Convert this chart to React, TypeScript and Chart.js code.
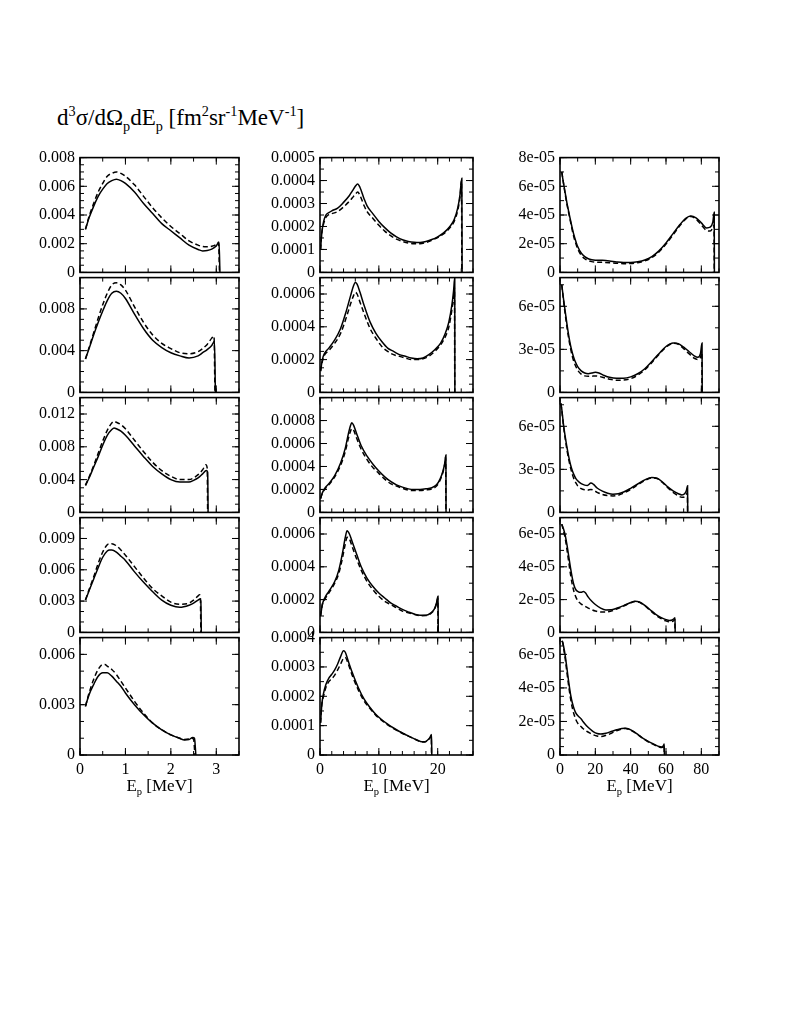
import React, { useEffect, useRef } from "react";
import { Chart, registerables } from "chart.js";
Chart.register(...registerables);

// ---------------- DATA ----------------
// x tick labels per column
const col1XTicks = [0, 1, 2, 3];
const col2XTicks = [0, 10, 20];
const col3XTicks = [0, 20, 40, 60, 80];
const colXMax = [3.5, 26, 90];
const colXMajor = [1, 10, 20];
const colXMinor = [0.5, 2, 10];

// y axis ranges / tick steps per panel (rows top -> bottom)
const col1YMax = [0.008, 0.011, 0.014, 0.011, 0.007];
const col1YMajor = [0.002, 0.004, 0.004, 0.003, 0.003];
const col1YMinor = [0.0005, 0.001, 0.001, 0.001, 0.001];
const col2YMax = [0.0005, 0.0007, 0.001, 0.0007, 0.0004];
const col2YMajor = [0.0001, 0.0002, 0.0002, 0.0002, 0.0001];
const col2YMinor = [0.00005, 0.00005, 0.0001, 0.0001, 0.00005];
const col3YMax = [8e-5, 8e-5, 8e-5, 7e-5, 7e-5];
const col3YMajor = [2e-5, 3e-5, 3e-5, 2e-5, 2e-5];
const col3YMinor = [1e-5, 1.5e-5, 1.5e-5, 1e-5, 5e-6];
// whether the label at the top of the axis is printed
const col1YTopLabel = [true, false, false, false, false];
const col2YTopLabel = [true, false, false, false, true];
const col3YTopLabel = [true, false, false, false, false];

// ---- column 1 (E_p up to 3.5 MeV) ----
const c1r1SE = [0.12, 0.2, 0.3, 0.4, 0.5, 0.6, 0.7, 0.8, 0.9, 1.0, 1.2, 1.4, 1.6, 1.8, 2.0, 2.2, 2.4, 2.6, 2.7, 2.8, 2.9, 3.0, 3.06, 3.08];
const c1r1SV = [0.003, 0.0038, 0.0046, 0.0053, 0.0058, 0.0062, 0.0064, 0.0065, 0.0064, 0.0062, 0.0056, 0.0048, 0.0041, 0.0034, 0.0029, 0.0024, 0.0019, 0.0016, 0.0015, 0.00152, 0.00162, 0.00185, 0.0021, 0];
const c1r1DE = [0.12, 0.2, 0.3, 0.4, 0.5, 0.6, 0.7, 0.8, 0.9, 1.0, 1.2, 1.4, 1.6, 1.8, 2.0, 2.2, 2.4, 2.6, 2.7, 2.8, 2.9, 3.0, 3.05, 3.07];
const c1r1DV = [0.003, 0.0039, 0.0048, 0.0056, 0.0062, 0.0067, 0.0069, 0.007, 0.0069, 0.0067, 0.0061, 0.0053, 0.0045, 0.0038, 0.0032, 0.0027, 0.0022, 0.0019, 0.0018, 0.00178, 0.00182, 0.00195, 0.0021, 0];

const c1r2SE = [0.12, 0.2, 0.3, 0.4, 0.5, 0.6, 0.7, 0.8, 0.9, 1.0, 1.2, 1.4, 1.6, 1.8, 2.0, 2.2, 2.4, 2.6, 2.7, 2.8, 2.9, 2.96, 2.98];
const c1r2SV = [0.0032, 0.0042, 0.0055, 0.0067, 0.0078, 0.0088, 0.0095, 0.0097, 0.0095, 0.009, 0.0075, 0.0061, 0.005, 0.0043, 0.0038, 0.0035, 0.0033, 0.0035, 0.0038, 0.0041, 0.0045, 0.0049, 0];
const c1r2DE = [0.12, 0.2, 0.3, 0.4, 0.5, 0.6, 0.7, 0.8, 0.9, 1.0, 1.2, 1.4, 1.6, 1.8, 2.0, 2.2, 2.4, 2.6, 2.7, 2.8, 2.9, 2.95, 2.97];
const c1r2DV = [0.0032, 0.0043, 0.0057, 0.0071, 0.0084, 0.0095, 0.0103, 0.0105, 0.0103, 0.0098, 0.0082, 0.0067, 0.0055, 0.0047, 0.0042, 0.0038, 0.0037, 0.0039, 0.0042, 0.0046, 0.0052, 0.0054, 0];

const c1r3SE = [0.12, 0.2, 0.3, 0.4, 0.5, 0.6, 0.7, 0.75, 0.8, 0.9, 1.0, 1.2, 1.4, 1.6, 1.8, 2.0, 2.2, 2.4, 2.5, 2.6, 2.7, 2.78, 2.81, 2.82];
const c1r3SV = [0.0033, 0.0042, 0.0055, 0.0068, 0.0082, 0.0094, 0.0101, 0.0103, 0.0102, 0.0099, 0.0094, 0.0081, 0.0068, 0.0056, 0.0047, 0.004, 0.0037, 0.0037, 0.0039, 0.0042, 0.0047, 0.0051, 0.0049, 0];
const c1r3DE = [0.12, 0.2, 0.3, 0.4, 0.5, 0.6, 0.7, 0.75, 0.8, 0.9, 1.0, 1.2, 1.4, 1.6, 1.8, 2.0, 2.2, 2.4, 2.5, 2.6, 2.7, 2.77, 2.8, 2.81];
const c1r3DV = [0.0033, 0.0043, 0.0057, 0.0072, 0.0087, 0.01, 0.0109, 0.0111, 0.011, 0.0107, 0.0102, 0.0088, 0.0074, 0.0061, 0.0051, 0.0044, 0.004, 0.004, 0.0042, 0.0046, 0.0052, 0.0058, 0.0054, 0];

const c1r4SE = [0.12, 0.2, 0.3, 0.4, 0.5, 0.6, 0.65, 0.7, 0.8, 0.9, 1.0, 1.2, 1.4, 1.6, 1.8, 2.0, 2.2, 2.4, 2.5, 2.6, 2.64, 2.66, 2.67];
const c1r4SV = [0.0031, 0.004, 0.0051, 0.0062, 0.0072, 0.0078, 0.0079, 0.0079, 0.0077, 0.0073, 0.0069, 0.0058, 0.0048, 0.0039, 0.0031, 0.0026, 0.0024, 0.0026, 0.0028, 0.0031, 0.0032, 0.003, 0];
const c1r4DE = [0.12, 0.2, 0.3, 0.4, 0.5, 0.6, 0.65, 0.7, 0.8, 0.9, 1.0, 1.2, 1.4, 1.6, 1.8, 2.0, 2.2, 2.4, 2.5, 2.6, 2.63, 2.65, 2.66];
const c1r4DV = [0.0031, 0.0041, 0.0053, 0.0066, 0.0077, 0.0084, 0.0085, 0.0085, 0.0083, 0.0079, 0.0074, 0.0063, 0.0052, 0.0042, 0.0035, 0.0029, 0.0027, 0.0028, 0.0031, 0.0035, 0.0036, 0.0033, 0];

const c1r5SE = [0.12, 0.2, 0.3, 0.4, 0.5, 0.55, 0.6, 0.7, 0.8, 0.9, 1.0, 1.2, 1.4, 1.6, 1.8, 2.0, 2.2, 2.3, 2.4, 2.48, 2.52, 2.55];
const c1r5SV = [0.0029, 0.0036, 0.0042, 0.0047, 0.0049, 0.0049, 0.0049, 0.0047, 0.0044, 0.0041, 0.0037, 0.003, 0.0024, 0.0019, 0.0015, 0.0012, 0.00098, 0.0009, 0.00092, 0.00105, 0.001, 0];
const c1r5DE = [0.12, 0.2, 0.3, 0.4, 0.5, 0.55, 0.6, 0.7, 0.8, 0.9, 1.0, 1.2, 1.4, 1.6, 1.8, 2.0, 2.2, 2.3, 2.4, 2.46, 2.5, 2.53];
const c1r5DV = [0.0029, 0.0037, 0.0045, 0.0051, 0.0054, 0.0054, 0.0053, 0.0051, 0.0048, 0.0044, 0.004, 0.0032, 0.0025, 0.0019, 0.0015, 0.0012, 0.001, 0.00092, 0.00095, 0.001, 0.00095, 0];

// ---- column 2 (E_p up to 26 MeV) ----
const c2r1SE = [0.1, 0.3, 0.6, 1.0, 1.5, 2, 3, 4, 5, 5.5, 6, 6.4, 6.8, 7.5, 8, 9, 10, 11, 12, 13, 14, 15, 16, 17, 18, 19, 20, 21, 22, 22.8, 23.4, 23.8, 24.1, 24.15];
const c2r1SV = [0.0001, 0.00017, 0.00022, 0.00025, 0.00026, 0.000268, 0.00028, 0.000305, 0.000335, 0.000355, 0.000375, 0.000385, 0.00037, 0.00032, 0.00029, 0.000255, 0.000222, 0.000195, 0.000172, 0.000155, 0.000142, 0.000135, 0.000131, 0.00013, 0.000135, 0.000143, 0.000155, 0.000172, 0.000198, 0.00023, 0.00028, 0.00034, 0.00041, 0];
const c2r1DE = [0.1, 0.3, 0.6, 1.0, 1.5, 2, 3, 4, 5, 5.5, 6, 6.4, 6.8, 7.5, 8, 9, 10, 11, 12, 13, 14, 15, 16, 17, 18, 19, 20, 21, 22, 22.8, 23.4, 23.8, 24.05, 24.1];
const c2r1DV = [0.0001, 0.00017, 0.00021, 0.00024, 0.000252, 0.000256, 0.000265, 0.000285, 0.00031, 0.000325, 0.00034, 0.00035, 0.000335, 0.00029, 0.000265, 0.000235, 0.000205, 0.00018, 0.00016, 0.000145, 0.000135, 0.000128, 0.000125, 0.000125, 0.00013, 0.00014, 0.000152, 0.000168, 0.000192, 0.000222, 0.00027, 0.00033, 0.0004, 0];

const c2r2SE = [0.1, 0.4, 0.8, 1.5, 2.5, 3.5, 4.5, 5.2, 5.7, 6.0, 6.3, 6.8, 7.5, 8.5, 9.5, 10.5, 11.5, 12.5, 13.5, 14.5, 15.5, 16.5, 17.5, 18.5, 19.5, 20.5, 21.3, 21.9, 22.4, 22.7, 22.9, 22.92];
const c2r2SV = [0.00013, 0.0002, 0.00024, 0.00027, 0.00032, 0.00039, 0.0005, 0.00059, 0.00065, 0.00067, 0.00066, 0.00061, 0.00053, 0.00043, 0.00036, 0.00031, 0.00027, 0.00025, 0.00023, 0.00022, 0.00021, 0.000205, 0.00021, 0.00023, 0.00026, 0.0003, 0.00036, 0.00043, 0.00053, 0.00062, 0.0007, 0];
const c2r2DE = [0.1, 0.4, 0.8, 1.5, 2.5, 3.5, 4.5, 5.2, 5.7, 6.0, 6.3, 6.8, 7.5, 8.5, 9.5, 10.5, 11.5, 12.5, 13.5, 14.5, 15.5, 16.5, 17.5, 18.5, 19.5, 20.5, 21.3, 21.9, 22.4, 22.7, 22.85, 22.9];
const c2r2DV = [0.00013, 0.00019, 0.00023, 0.000255, 0.0003, 0.00036, 0.00046, 0.00054, 0.00059, 0.00061, 0.0006, 0.00055, 0.00048, 0.00039, 0.00033, 0.00028, 0.00025, 0.00023, 0.00022, 0.00021, 0.0002, 0.0002, 0.000205, 0.00022, 0.00025, 0.00029, 0.00034, 0.0004, 0.0005, 0.00058, 0.00064, 0];

const c2r3SE = [0.1, 0.4, 0.8, 1.5, 2.5, 3.5, 4.3, 4.8, 5.2, 5.4, 5.7, 6.2, 7, 8, 9, 10, 11, 12, 13, 14, 15, 16, 17, 18, 19, 19.8, 20.4, 20.9, 21.2, 21.4, 21.42];
const c2r3SV = [0.00012, 0.00017, 0.00021, 0.00025, 0.00032, 0.00043, 0.00056, 0.00068, 0.00076, 0.00078, 0.00076, 0.00069, 0.00058, 0.00049, 0.00042, 0.00036, 0.00031, 0.00027, 0.00024, 0.00022, 0.000205, 0.0002, 0.0002, 0.000205, 0.000215, 0.00024, 0.00029, 0.00036, 0.00043, 0.0005, 0];
const c2r3DE = [0.1, 0.4, 0.8, 1.5, 2.5, 3.5, 4.3, 4.8, 5.2, 5.4, 5.7, 6.2, 7, 8, 9, 10, 11, 12, 13, 14, 15, 16, 17, 18, 19, 19.8, 20.4, 20.9, 21.2, 21.35, 21.4];
const c2r3DV = [0.00012, 0.00017, 0.0002, 0.00024, 0.00031, 0.00041, 0.00053, 0.00064, 0.00071, 0.00073, 0.00072, 0.00065, 0.00055, 0.00046, 0.00039, 0.00034, 0.00029, 0.00025, 0.00023, 0.00021, 0.000195, 0.00019, 0.00019, 0.000195, 0.000205, 0.00023, 0.00028, 0.00035, 0.00042, 0.00048, 0];

const c2r4SE = [0.1, 0.4, 0.8, 1.5, 2.5, 3.2, 3.8, 4.3, 4.6, 5.0, 5.5, 6.2, 7, 8, 9, 10, 11, 12, 13, 14, 15, 16, 17, 18, 18.8, 19.4, 19.8, 20.05, 20.1];
const c2r4SV = [0.0001, 0.00017, 0.00021, 0.00025, 0.00031, 0.00038, 0.00048, 0.00058, 0.00062, 0.0006, 0.00055, 0.00048, 0.0004, 0.00033, 0.00028, 0.00024, 0.00021, 0.00018, 0.00016, 0.00014, 0.000125, 0.000112, 0.000105, 0.000105, 0.000118, 0.00014, 0.00018, 0.00022, 0];
const c2r4DE = [0.1, 0.4, 0.8, 1.5, 2.5, 3.2, 3.8, 4.3, 4.6, 5.0, 5.5, 6.2, 7, 8, 9, 10, 11, 12, 13, 14, 15, 16, 17, 18, 18.8, 19.4, 19.8, 20.02, 20.05];
const c2r4DV = [0.0001, 0.00017, 0.0002, 0.00024, 0.0003, 0.00036, 0.00045, 0.00054, 0.00058, 0.00057, 0.00052, 0.00045, 0.00038, 0.00031, 0.00026, 0.00022, 0.00019, 0.00017, 0.00015, 0.00013, 0.00012, 0.00011, 0.000102, 0.000103, 0.000115, 0.000138, 0.000175, 0.00021, 0];

const c2r5SE = [0.1, 0.3, 0.6, 1.0, 1.5, 2.0, 2.5, 3.0, 3.5, 4.0, 4.3, 4.8, 5.5, 6.5, 7.5, 8.5, 9.5, 10.5, 11.5, 12.5, 13.5, 14.5, 15.5, 16.5, 17.3, 17.8, 18.3, 18.7, 18.95, 19.0];
const c2r5SV = [0.00011, 0.00017, 0.00021, 0.00024, 0.000262, 0.000275, 0.00029, 0.00031, 0.000335, 0.000355, 0.00035, 0.00032, 0.00028, 0.00023, 0.00019, 0.000162, 0.000138, 0.00012, 0.000105, 0.000092, 0.00008, 0.00007, 0.00006, 0.000051, 0.000045, 0.000045, 0.000051, 0.00006, 0.00007, 0];
const c2r5DE = [0.1, 0.3, 0.6, 1.0, 1.5, 2.0, 2.5, 3.0, 3.5, 4.0, 4.3, 4.8, 5.5, 6.5, 7.5, 8.5, 9.5, 10.5, 11.5, 12.5, 13.5, 14.5, 15.5, 16.5, 17.3, 17.8, 18.3, 18.7, 18.9, 18.95];
const c2r5DV = [0.00011, 0.00017, 0.0002, 0.00023, 0.00025, 0.00026, 0.000272, 0.00029, 0.00031, 0.00033, 0.000332, 0.00031, 0.00027, 0.000222, 0.000184, 0.000158, 0.000135, 0.000118, 0.000103, 0.00009, 0.000079, 0.000069, 0.00006, 0.00005, 0.000044, 0.000044, 0.00005, 0.000058, 0.000066, 0];

// ---- column 3 (E_p up to 90 MeV) ----
const c3r1SE = [1, 2, 3, 4, 5, 6, 7, 8, 9, 10, 12, 14, 16, 18, 20, 24, 28, 32, 36, 40, 44, 48, 52, 56, 60, 64, 68, 71, 74, 77, 80, 83, 85, 86.5, 87.3, 87.4];
const c3r1SV = [7.0e-5, 6.2e-5, 5.5e-5, 4.8e-5, 4.2e-5, 3.6e-5, 3.05e-5, 2.55e-5, 2.15e-5, 1.8e-5, 1.35e-5, 1.1e-5, 9.5e-6, 8.8e-6, 8.5e-6, 8.4e-6, 8.0e-6, 7.3e-6, 6.9e-6, 6.9e-6, 7.4e-6, 8.6e-6, 1.1e-5, 1.5e-5, 2.05e-5, 2.7e-5, 3.35e-5, 3.75e-5, 3.93e-5, 3.8e-5, 3.45e-5, 3.1e-5, 3.15e-5, 3.5e-5, 4.2e-5, 0];
const c3r1DE = [1, 2, 3, 4, 5, 6, 7, 8, 9, 10, 12, 14, 16, 18, 20, 24, 28, 32, 36, 40, 44, 48, 52, 56, 60, 64, 68, 71, 74, 77, 80, 83, 85, 86.5, 87.2, 87.3];
const c3r1DV = [7.0e-5, 6.2e-5, 5.4e-5, 4.7e-5, 4.1e-5, 3.5e-5, 2.9e-5, 2.4e-5, 2.0e-5, 1.65e-5, 1.2e-5, 9.5e-6, 8.2e-6, 7.5e-6, 7.2e-6, 7.0e-6, 6.8e-6, 6.4e-6, 6.1e-6, 6.2e-6, 6.8e-6, 8.0e-6, 1.03e-5, 1.42e-5, 1.97e-5, 2.62e-5, 3.28e-5, 3.7e-5, 3.9e-5, 3.72e-5, 3.3e-5, 2.92e-5, 2.88e-5, 3.1e-5, 3.3e-5, 0];

const c3r2SE = [1, 2, 3, 4, 5, 6, 7, 8, 9, 10, 12, 14, 16, 18, 20, 22, 25, 28, 32, 36, 40, 44, 48, 52, 56, 60, 64, 67, 70, 73, 76, 78, 79.5, 80.4, 80.5];
const c3r2SV = [7.5e-5, 6.5e-5, 5.6e-5, 4.7e-5, 3.9e-5, 3.25e-5, 2.75e-5, 2.35e-5, 2.05e-5, 1.8e-5, 1.5e-5, 1.35e-5, 1.3e-5, 1.35e-5, 1.4e-5, 1.35e-5, 1.18e-5, 1.05e-5, 9.8e-6, 9.8e-6, 1.08e-5, 1.3e-5, 1.65e-5, 2.15e-5, 2.7e-5, 3.2e-5, 3.45e-5, 3.4e-5, 3.15e-5, 2.85e-5, 2.55e-5, 2.45e-5, 2.7e-5, 3.45e-5, 0];
const c3r2DE = [1, 2, 3, 4, 5, 6, 7, 8, 9, 10, 12, 14, 16, 18, 20, 22, 25, 28, 32, 36, 40, 44, 48, 52, 56, 60, 64, 67, 70, 73, 76, 78, 79.5, 80.3, 80.4];
const c3r2DV = [7.5e-5, 6.4e-5, 5.4e-5, 4.5e-5, 3.7e-5, 3.05e-5, 2.5e-5, 2.1e-5, 1.8e-5, 1.55e-5, 1.27e-5, 1.15e-5, 1.12e-5, 1.13e-5, 1.15e-5, 1.12e-5, 1.02e-5, 9.2e-6, 8.5e-6, 8.6e-6, 9.6e-6, 1.2e-5, 1.57e-5, 2.08e-5, 2.65e-5, 3.15e-5, 3.42e-5, 3.35e-5, 3.05e-5, 2.7e-5, 2.38e-5, 2.3e-5, 2.45e-5, 2.8e-5, 0];

const c3r3SE = [0.5, 1, 2, 3, 4, 5, 6, 7, 8, 9, 10, 12, 14, 15.5, 17.5, 19, 21, 24, 27, 30, 33, 36, 40, 44, 48, 52, 55, 58, 61, 64, 67, 69, 70.5, 71.6, 72.2, 72.3];
const c3r3SV = [7.6e-5, 7.2e-5, 6.1e-5, 5.25e-5, 4.5e-5, 3.85e-5, 3.3e-5, 2.9e-5, 2.6e-5, 2.35e-5, 2.2e-5, 2.0e-5, 1.9e-5, 1.88e-5, 2.05e-5, 1.95e-5, 1.7e-5, 1.48e-5, 1.34e-5, 1.27e-5, 1.3e-5, 1.42e-5, 1.68e-5, 1.98e-5, 2.27e-5, 2.44e-5, 2.38e-5, 2.12e-5, 1.78e-5, 1.5e-5, 1.3e-5, 1.22e-5, 1.3e-5, 1.55e-5, 1.85e-5, 0];
const c3r3DE = [0.5, 1, 2, 3, 4, 5, 6, 7, 8, 9, 10, 12, 14, 15.5, 17.5, 19, 21, 24, 27, 30, 33, 36, 40, 44, 48, 52, 55, 58, 61, 64, 67, 69, 70.5, 71.6, 72.1, 72.2];
const c3r3DV = [7.6e-5, 7.1e-5, 6.0e-5, 5.1e-5, 4.3e-5, 3.65e-5, 3.1e-5, 2.65e-5, 2.3e-5, 2.05e-5, 1.85e-5, 1.65e-5, 1.57e-5, 1.55e-5, 1.6e-5, 1.55e-5, 1.4e-5, 1.25e-5, 1.17e-5, 1.15e-5, 1.2e-5, 1.34e-5, 1.6e-5, 1.92e-5, 2.22e-5, 2.4e-5, 2.35e-5, 2.08e-5, 1.72e-5, 1.4e-5, 1.15e-5, 1.05e-5, 1.08e-5, 1.25e-5, 1.4e-5, 0];

const c3r4SE = [1, 2, 3, 4, 5, 6, 7, 8, 9, 10, 11, 12, 13.3, 14.5, 16, 18, 20, 23, 26, 29, 32, 36, 40, 42.5, 45, 48, 51, 54, 57, 60, 62, 63.5, 64.5, 65.1, 65.2];
const c3r4SV = [6.6e-5, 6.3e-5, 5.9e-5, 5.3e-5, 4.6e-5, 3.9e-5, 3.3e-5, 2.85e-5, 2.6e-5, 2.5e-5, 2.45e-5, 2.45e-5, 2.5e-5, 2.4e-5, 2.15e-5, 1.9e-5, 1.7e-5, 1.48e-5, 1.37e-5, 1.38e-5, 1.47e-5, 1.63e-5, 1.82e-5, 1.9e-5, 1.85e-5, 1.65e-5, 1.38e-5, 1.12e-5, 9.2e-6, 7.8e-6, 7.3e-6, 7.6e-6, 8.3e-6, 9.0e-6, 0];
const c3r4DE = [1, 2, 3, 4, 5, 6, 7, 8, 9, 10, 11, 12, 13.3, 14.5, 16, 18, 20, 23, 26, 29, 32, 36, 40, 42.5, 45, 48, 51, 54, 57, 60, 62, 63.5, 64.5, 65.0, 65.1];
const c3r4DV = [6.6e-5, 6.2e-5, 5.7e-5, 5.0e-5, 4.25e-5, 3.5e-5, 2.9e-5, 2.45e-5, 2.15e-5, 1.95e-5, 1.82e-5, 1.73e-5, 1.65e-5, 1.57e-5, 1.48e-5, 1.38e-5, 1.3e-5, 1.24e-5, 1.24e-5, 1.3e-5, 1.42e-5, 1.6e-5, 1.8e-5, 1.88e-5, 1.83e-5, 1.62e-5, 1.34e-5, 1.07e-5, 8.6e-6, 7.0e-6, 6.4e-6, 6.6e-6, 7.3e-6, 8.0e-6, 0];

const c3r5SE = [1, 1.5, 2, 3, 4, 5, 6, 7, 8, 9, 10, 11, 12, 13, 15, 17, 19, 21, 23, 26, 29, 32, 35, 37, 39, 42, 45, 48, 51, 54, 56, 57.5, 58.5, 59, 59.1];
const c3r5SV = [6.8e-5, 6.75e-5, 6.5e-5, 5.9e-5, 5.1e-5, 4.3e-5, 3.6e-5, 3.1e-5, 2.75e-5, 2.5e-5, 2.35e-5, 2.25e-5, 2.15e-5, 2.0e-5, 1.75e-5, 1.55e-5, 1.38e-5, 1.28e-5, 1.25e-5, 1.3e-5, 1.4e-5, 1.5e-5, 1.58e-5, 1.6e-5, 1.55e-5, 1.38e-5, 1.15e-5, 9.3e-6, 7.5e-6, 6.0e-6, 5.1e-6, 4.8e-6, 5.5e-6, 6.5e-6, 0];
const c3r5DE = [1, 1.5, 2, 3, 4, 5, 6, 7, 8, 9, 10, 11, 12, 13, 15, 17, 19, 21, 23, 26, 29, 32, 35, 37, 39, 42, 45, 48, 51, 54, 56, 57.5, 58.5, 58.9, 59];
const c3r5DV = [6.8e-5, 6.7e-5, 6.4e-5, 5.7e-5, 4.85e-5, 4.05e-5, 3.35e-5, 2.8e-5, 2.4e-5, 2.1e-5, 1.9e-5, 1.78e-5, 1.68e-5, 1.58e-5, 1.42e-5, 1.3e-5, 1.2e-5, 1.13e-5, 1.1e-5, 1.17e-5, 1.3e-5, 1.45e-5, 1.55e-5, 1.58e-5, 1.53e-5, 1.36e-5, 1.13e-5, 9.1e-6, 7.2e-6, 5.7e-6, 4.8e-6, 4.4e-6, 5.0e-6, 5.8e-6, 0];

// ---------------- LAYOUT ----------------
const FONT = "'Liberation Serif', 'Times New Roman', serif";
Chart.defaults.font.family = FONT;
const COL_LEFT = [80, 320, 560];
const COL_RIGHT = [239, 473, 719];
const ROW_TOP = 155;
const ROW_H = 120;
const YW = 70; // room for y labels left of frame
const PAD_T = 12;
const PAD_R = 10;

const colXTicks = [col1XTicks, col2XTicks, col3XTicks];
const colYMax = [col1YMax, col2YMax, col3YMax];
const colYMajor = [col1YMajor, col2YMajor, col3YMajor];
const colYMinor = [col1YMinor, col2YMinor, col3YMinor];
const colYTopLabel = [col1YTopLabel, col2YTopLabel, col3YTopLabel];

const SERIES: number[][][][] = [
  [
    [c1r1SE, c1r1SV, c1r1DE, c1r1DV],
    [c1r2SE, c1r2SV, c1r2DE, c1r2DV],
    [c1r3SE, c1r3SV, c1r3DE, c1r3DV],
    [c1r4SE, c1r4SV, c1r4DE, c1r4DV],
    [c1r5SE, c1r5SV, c1r5DE, c1r5DV],
  ],
  [
    [c2r1SE, c2r1SV, c2r1DE, c2r1DV],
    [c2r2SE, c2r2SV, c2r2DE, c2r2DV],
    [c2r3SE, c2r3SV, c2r3DE, c2r3DV],
    [c2r4SE, c2r4SV, c2r4DE, c2r4DV],
    [c2r5SE, c2r5SV, c2r5DE, c2r5DV],
  ],
  [
    [c3r1SE, c3r1SV, c3r1DE, c3r1DV],
    [c3r2SE, c3r2SV, c3r2DE, c3r2DV],
    [c3r3SE, c3r3SV, c3r3DE, c3r3DV],
    [c3r4SE, c3r4SV, c3r4DE, c3r4DV],
    [c3r5SE, c3r5SV, c3r5DE, c3r5DV],
  ],
];

function stepValues(max: number, step: number): number[] {
  const n = Math.floor(max / step + 1e-6);
  const out: number[] = [];
  for (let i = 0; i <= n; i++) out.push(parseFloat((i * step).toPrecision(8)));
  return out;
}

function fmtDec(v: number): string {
  if (Math.abs(v) < 1e-15) return "0";
  return String(parseFloat(v.toPrecision(6)));
}
function fmtExp(v: number): string {
  if (Math.abs(v) < 1e-15) return "0";
  return v.toExponential(0).replace(/e([+-])(\d)$/, "e$10$2");
}

function Panel({ col, row }: { col: number; row: number }) {
  const ref = useRef<HTMLCanvasElement>(null);
  const isBottom = row === 4;
  const frameW = COL_RIGHT[col] - COL_LEFT[col];
  const XH = isBottom ? 30 : 12;
  const W = YW + frameW + PAD_R;
  const H = PAD_T + ROW_H + XH;
  const left = COL_LEFT[col] - YW;
  const top = ROW_TOP + row * ROW_H - PAD_T;

  useEffect(() => {
    const [sE, sV, dE, dV] = SERIES[col][row];
    const ymax = colYMax[col][row];
    const yMajor = colYMajor[col][row];
    const yMinor = colYMinor[col][row];
    const xmax = colXMax[col];
    const yMajVals = stepValues(ymax, yMajor);
    const yMinVals = stepValues(ymax, yMinor);
    const xMajVals = stepValues(xmax, colXMajor[col]);
    const xMinVals = stepValues(xmax, colXMinor[col]);
    const yLabelVals = yMajVals.filter(
      (v) => colYTopLabel[col][row] || Math.abs(v - ymax) > ymax * 1e-6
    );
    const fmt = col === 2 ? fmtExp : fmtDec;

    const framePlugin = {
      id: "frameTicks",
      afterDatasetsDraw(chart: any) {
        const { ctx, chartArea: a, scales } = chart;
        const xs = scales.x;
        const ys = scales.y;
        ctx.save();
        ctx.strokeStyle = "#000";
        ctx.lineWidth = 1;
        const seg = (x1: number, y1: number, x2: number, y2: number) => {
          ctx.beginPath();
          ctx.moveTo(x1, y1);
          ctx.lineTo(x2, y2);
          ctx.stroke();
        };
        xMinVals.forEach((v) => {
          const px = xs.getPixelForValue(v);
          seg(px, a.bottom, px, a.bottom - 4);
          seg(px, a.top, px, a.top + 4);
        });
        xMajVals.forEach((v) => {
          const px = xs.getPixelForValue(v);
          seg(px, a.bottom, px, a.bottom - 7);
          seg(px, a.top, px, a.top + 7);
        });
        yMinVals.forEach((v) => {
          const py = ys.getPixelForValue(v);
          seg(a.left, py, a.left + 4, py);
          seg(a.right, py, a.right - 4, py);
        });
        yMajVals.forEach((v) => {
          const py = ys.getPixelForValue(v);
          seg(a.left, py, a.left + 7, py);
          seg(a.right, py, a.right - 7, py);
        });
        ctx.lineWidth = 1.6;
        ctx.strokeRect(a.left, a.top, a.right - a.left, a.bottom - a.top);
        ctx.restore();
      },
    };

    const line = (xsArr: number[], ysArr: number[], dashed: boolean) => ({
      data: xsArr.map((x, i) => ({ x, y: ysArr[i] })),
      showLine: true,
      borderColor: "#000",
      backgroundColor: "#000",
      borderWidth: 1.5,
      borderDash: dashed ? [5, 3] : [],
      pointRadius: 0,
      cubicInterpolationMode: "monotone" as const,
      fill: false,
    });

    const chart = new Chart(ref.current as HTMLCanvasElement, {
      type: "scatter",
      data: { datasets: [line(sE, sV, false), line(dE, dV, true)] as any },
      options: {
        animation: false,
        responsive: true,
        maintainAspectRatio: false,
        events: [],
        layout: { padding: { left: 0, top: PAD_T, right: PAD_R, bottom: 0 } },
        plugins: { legend: { display: false }, tooltip: { enabled: false } },
        scales: {
          x: {
            type: "linear",
            min: 0,
            max: xmax,
            grid: { display: false, drawTicks: false },
            border: { display: false },
            ticks: {
              display: isBottom,
              color: "#000",
              font: { family: FONT, size: 16 },
              padding: 5,
              maxRotation: 0,
              autoSkip: false,
              callback: (v: any) => String(v),
            },
            afterBuildTicks: (s: any) => {
              s.ticks = colXTicks[col].map((v) => ({ value: v }));
            },
            afterFit: (s: any) => {
              s.height = XH;
            },
          },
          y: {
            type: "linear",
            min: 0,
            max: ymax,
            grid: { display: false, drawTicks: false },
            border: { display: false },
            ticks: {
              color: "#000",
              font: { family: FONT, size: 16 },
              padding: 5,
              autoSkip: false,
              callback: (v: any) => fmt(Number(v)),
            },
            afterBuildTicks: (s: any) => {
              s.ticks = yLabelVals.map((v) => ({ value: v }));
            },
            afterFit: (s: any) => {
              s.width = YW;
            },
          },
        },
      } as any,
      plugins: [framePlugin],
    });
    return () => chart.destroy();
  }, [col, row]);

  return (
    <div style={{ position: "absolute", left, top, width: W, height: H }}>
      <canvas ref={ref} />
    </div>
  );
}

const Sup = ({ children }: { children: React.ReactNode }) => (
  <span style={{ fontSize: "0.62em", position: "relative", top: "-0.6em" }}>{children}</span>
);
const Sub = ({ children }: { children: React.ReactNode }) => (
  <span style={{ fontSize: "0.62em", position: "relative", top: "0.4em" }}>{children}</span>
);

export default function App() {
  const panels: React.ReactNode[] = [];
  for (let c = 0; c < 3; c++) for (let r = 0; r < 5; r++) panels.push(<Panel key={`${c}-${r}`} col={c} row={r} />);
  return (
    <div style={{ position: "absolute", left: 0, top: 0, width: 800, height: 1035, background: "#fff", fontFamily: FONT, color: "#000" }}>
      <div style={{ position: "absolute", left: 57, top: 106, fontSize: 23, lineHeight: "23px", whiteSpace: "nowrap" }}>
        d<Sup>3</Sup>σ/dΩ<Sub>p</Sub>dE<Sub>p</Sub> [fm<Sup>2</Sup>sr<Sup>-1</Sup>MeV<Sup>-1</Sup>]
      </div>
      {panels}
      {[0, 1, 2].map((c) => (
        <div
          key={c}
          style={{
            position: "absolute",
            left: (COL_LEFT[c] + COL_RIGHT[c]) / 2 - 100,
            width: 200,
            top: 777,
            textAlign: "center",
            fontSize: 17,
            lineHeight: "17px",
            whiteSpace: "nowrap",
          }}
        >
          E<Sub>p</Sub> [MeV]
        </div>
      ))}
    </div>
  );
}
